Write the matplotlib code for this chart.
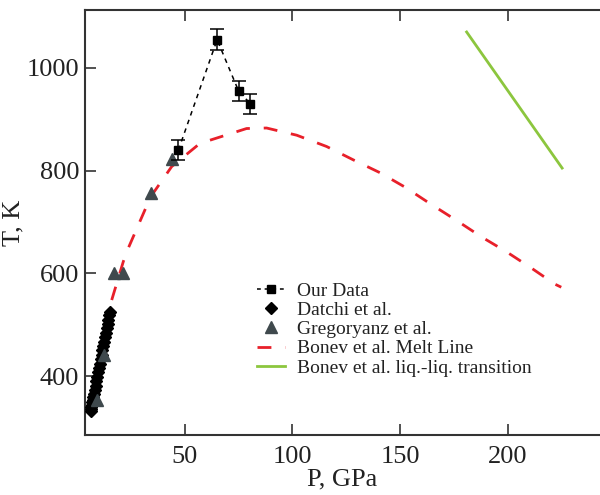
import numpy as np
import matplotlib
matplotlib.use("Agg")
import matplotlib.pyplot as plt
from matplotlib.lines import Line2D

# Our data (P in GPa, T in K, error in K)
our_p = [47, 65, 75, 80.5]
our_t = [840, 1055, 955, 930]
our_err = [20, 20, 20, 20]

# Datchi et al.
datchi_p = [6.2, 6.4, 6.6, 6.8, 7.0, 7.2, 7.5, 7.8, 8.1, 8.5, 8.9, 9.3, 9.7, 10.1,
            10.5, 10.9, 11.3, 11.7, 12.1, 12.5, 12.9, 13.3, 13.7, 14.1, 14.5,
            14.9, 15.2]
datchi_t = [331, 336, 340, 344, 349, 353, 360, 366, 373, 381, 390, 398, 407, 415,
            424, 433, 441, 450, 459, 467, 476, 484, 493, 502, 510, 519, 525]

# Gregoryanz et al.
greg_p = [9.3, 12.5, 17.2, 21.4, 34.1, 44.1]
greg_t = [353, 441, 601, 601, 757, 822]

# Bonev et al. melt line
melt_p = [16, 21.4, 23.7, 34.1, 43.9, 57, 78.7, 88, 102, 115.9, 128.3, 140.7,
          152.3, 163.9, 176.3, 187.9, 199.5, 211.2, 222, 225]
melt_t = [548, 623, 649, 749, 808, 853, 882, 883, 869, 847, 821, 796,
          768, 736, 703, 671, 642, 610, 579, 573]

# Bonev et al. liquid-liquid transition
llt_p = [181, 225.4]
llt_t = [1070, 805]

plt.rcParams['font.family'] = ['Liberation Serif', 'DejaVu Serif']

fig = plt.figure(figsize=(6, 4.95), dpi=100)
ax = fig.add_axes([0.141, 0.121, 0.859, 0.859])

melt, = ax.plot(melt_p, melt_t, color='#e8202a', lw=2, dashes=(5, 5), zorder=2)
llt, = ax.plot(llt_p, llt_t, color='#8cc63e', lw=2, zorder=2)
datchi, = ax.plot(datchi_p, datchi_t, 'D', color='black', ms=6, ls='none', zorder=3)
greg, = ax.plot(greg_p, greg_t, '^', color='#3f494d', ms=8, ls='none', zorder=3)
ax.errorbar(our_p, our_t, yerr=our_err, fmt='s', color='black', ms=5.5,
            ls=(0, (3, 3)), lw=1.1, elinewidth=1.1, capsize=5, capthick=1.1,
            zorder=4)
our_handle = Line2D([], [], color='black', marker='s', ms=6, lw=1.1,
                    ls=(0, (2.5, 2.5)))

ax.set_xlim(3.4, 243)
ax.set_ylim(285, 1113)
ax.set_xticks([50, 100, 150, 200])
ax.set_yticks([400, 600, 800, 1000])
ax.tick_params(axis='both', direction='in', length=8, width=1.2,
               labelsize=19, colors='#333333', labelcolor='#222222')
ax.tick_params(axis='x', top=True, pad=8)
ax.tick_params(axis='y', pad=4)
for side in ['left', 'bottom', 'top']:
    ax.spines[side].set_linewidth(1.5)
    ax.spines[side].set_color('#333333')
ax.spines['right'].set_visible(False)

ax.set_xlabel('P, GPa', fontsize=19, color='#222222', labelpad=0)
ax.set_ylabel('T, K', fontsize=19, color='#222222')
ax.yaxis.set_label_coords(-0.117, 0.5)

ax.legend([our_handle, datchi, greg, melt, llt],
          ['Our Data', 'Datchi et al.', 'Gregoryanz et al.',
           'Bonev et al. Melt Line', 'Bonev et al. liq.-liq. transition'],
          loc='upper left', bbox_to_anchor=(0.316, 0.383), frameon=False,
          fontsize=14, labelspacing=0.085, handlelength=1.45,
          handletextpad=0.6, borderpad=0, labelcolor='#222222')

fig.savefig('out.png', dpi=100)
